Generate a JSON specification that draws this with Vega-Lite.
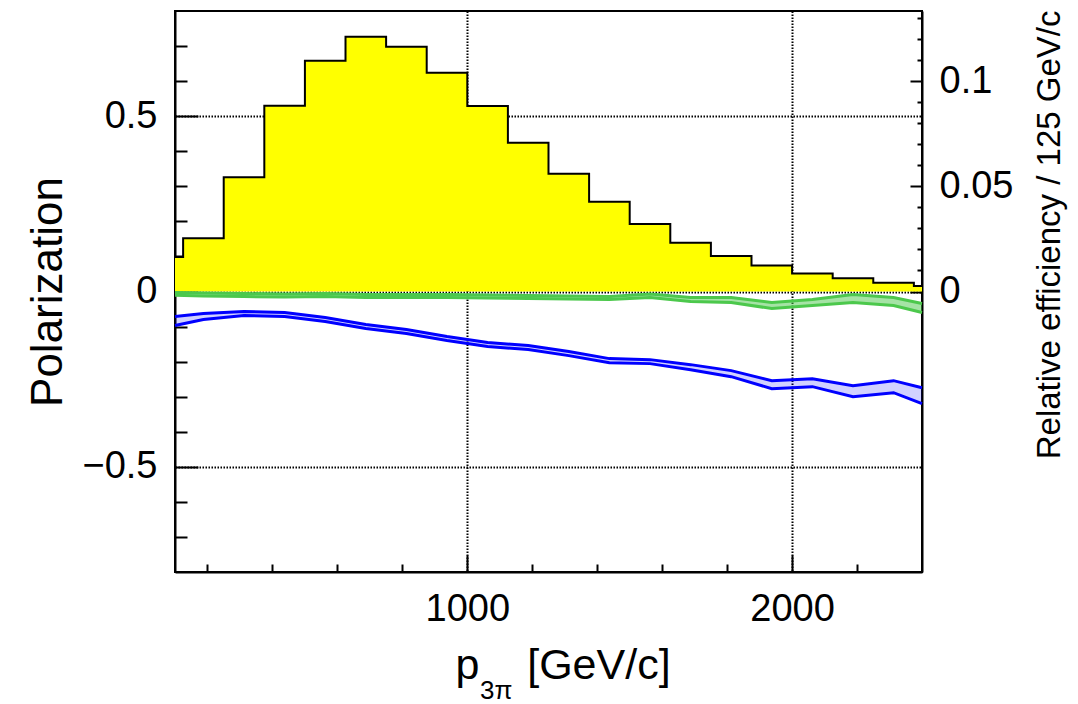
{
  "$schema": "https://vega.github.io/schema/vega-lite/v6.json",
  "width": 747,
  "height": 561,
  "autosize": {"type": "none"},
  "padding": {"left": 175, "top": 11, "right": 156, "bottom": 132},
  "background": "white",
  "config": {
    "font": "Liberation Sans",
    "view": {"stroke": "black", "strokeWidth": 2},
    "axis": {
      "domainColor": "black", "domainWidth": 2,
      "tickColor": "black", "tickWidth": 2,
      "labelColor": "black", "titleColor": "black",
      "labelFont": "Liberation Sans", "titleFont": "Liberation Sans",
      "titleFontWeight": "normal",
      "gridColor": "black", "gridDash": [1.5, 1.5], "gridWidth": 2,
      "labelFlush": false, "labelOverlap": false, "labelBound": false
    }
  },
  "title": {
    "text": "3π", "orient": "bottom", "anchor": "start", "frame": "group",
    "fontSize": 26, "font": "Liberation Sans", "fontWeight": "normal",
    "color": "black", "baseline": "alphabetic", "dx": 305, "offset": 12
  },
  "datasets": {
    "eff": [
      {"p": 100, "eff": 0.0164},
      {"p": 125, "eff": 0.0253},
      {"p": 250, "eff": 0.0543},
      {"p": 375, "eff": 0.0883},
      {"p": 500, "eff": 0.1097},
      {"p": 625, "eff": 0.1211},
      {"p": 750, "eff": 0.1163},
      {"p": 875, "eff": 0.1040},
      {"p": 1000, "eff": 0.0882},
      {"p": 1125, "eff": 0.0707},
      {"p": 1250, "eff": 0.0560},
      {"p": 1375, "eff": 0.0427},
      {"p": 1500, "eff": 0.0321},
      {"p": 1625, "eff": 0.0232},
      {"p": 1750, "eff": 0.0169},
      {"p": 1875, "eff": 0.0124},
      {"p": 2000, "eff": 0.0086},
      {"p": 2125, "eff": 0.0063},
      {"p": 2250, "eff": 0.0042},
      {"p": 2375, "eff": 0.0026},
      {"p": 2400, "eff": 0.0026}
    ],
    "pol": [
      {"p": 100, "b_hi": -0.0714, "b_lo": -0.0971, "g_hi": -0.003, "g_lo": -0.011},
      {"p": 187.5, "b_hi": -0.0629, "b_lo": -0.08, "g_hi": -0.004, "g_lo": -0.0129},
      {"p": 312.5, "b_hi": -0.0571, "b_lo": -0.0686, "g_hi": -0.0057, "g_lo": -0.0143},
      {"p": 437.5, "b_hi": -0.06, "b_lo": -0.0714, "g_hi": -0.0071, "g_lo": -0.0157},
      {"p": 562.5, "b_hi": -0.0743, "b_lo": -0.0857, "g_hi": -0.0057, "g_lo": -0.0143},
      {"p": 687.5, "b_hi": -0.0943, "b_lo": -0.1057, "g_hi": -0.0086, "g_lo": -0.0171},
      {"p": 812.5, "b_hi": -0.1086, "b_lo": -0.12, "g_hi": -0.0086, "g_lo": -0.0171},
      {"p": 937.5, "b_hi": -0.1286, "b_lo": -0.14, "g_hi": -0.0086, "g_lo": -0.0171},
      {"p": 1062.5, "b_hi": -0.1457, "b_lo": -0.1571, "g_hi": -0.01, "g_lo": -0.0186},
      {"p": 1187.5, "b_hi": -0.1543, "b_lo": -0.1657, "g_hi": -0.0114, "g_lo": -0.02},
      {"p": 1312.5, "b_hi": -0.1714, "b_lo": -0.1829, "g_hi": -0.0129, "g_lo": -0.0214},
      {"p": 1437.5, "b_hi": -0.1914, "b_lo": -0.2029, "g_hi": -0.0143, "g_lo": -0.0229},
      {"p": 1562.5, "b_hi": -0.1943, "b_lo": -0.2057, "g_hi": -0.0071, "g_lo": -0.0171},
      {"p": 1687.5, "b_hi": -0.2086, "b_lo": -0.2229, "g_hi": -0.0171, "g_lo": -0.0286},
      {"p": 1812.5, "b_hi": -0.2257, "b_lo": -0.2429, "g_hi": -0.0171, "g_lo": -0.0314},
      {"p": 1937.5, "b_hi": -0.2543, "b_lo": -0.2771, "g_hi": -0.0314, "g_lo": -0.0486},
      {"p": 2062.5, "b_hi": -0.2486, "b_lo": -0.2714, "g_hi": -0.0229, "g_lo": -0.04},
      {"p": 2187.5, "b_hi": -0.2686, "b_lo": -0.30, "g_hi": -0.0086, "g_lo": -0.0314},
      {"p": 2312.5, "b_hi": -0.2543, "b_lo": -0.2886, "g_hi": -0.0171, "g_lo": -0.04},
      {"p": 2400, "b_hi": -0.2743, "b_lo": -0.32, "g_hi": -0.0343, "g_lo": -0.06}
    ]
  },
  "layer": [
    {
      "data": {"name": "eff"},
      "layer": [
        {
          "mark": {"type": "area", "interpolate": "step-after", "color": "#ffff00", "opacity": 1},
          "encoding": {
            "x": {
              "field": "p", "type": "quantitative",
              "scale": {"domain": [100, 2400], "nice": false, "zero": false},
              "axis": {
                "orient": "bottom",
                "values": [200, 400, 600, 800, 1000, 1200, 1400, 1600, 1800, 2000, 2200],
                "title": "p\u00a0\u00a0\u00a0\u00a0[GeV/c]",
                "titleFontSize": 43, "titleX": 280, "titleY": 106,
                "titleAlign": "left", "titleBaseline": "alphabetic", "titleAnchor": "start",
                "labelFontSize": 38, "labelPadding": 35, "labelBaseline": "top",
                "tickSize": {"condition": {"test": "datum.value % 1000 === 0", "value": -17}, "value": -8},
                "labelExpr": "datum.value % 1000 === 0 ? (datum.value + '') : ''",
                "grid": true,
                "gridOpacity": {"condition": {"test": "datum.value % 1000 === 0", "value": 1}, "value": 0}
              }
            },
            "y": {
              "field": "eff", "type": "quantitative",
              "scale": {"domain": [-0.133333, 0.133333], "nice": false, "zero": false},
              "axis": {
                "orient": "right",
                "values": [0, 0.01, 0.02, 0.03, 0.04, 0.05, 0.06, 0.07, 0.08, 0.09, 0.1, 0.11, 0.12, 0.13],
                "title": "Relative efficiency / 125 GeV/c",
                "titleFontSize": 33, "titleAngle": -90, "titleAlign": "right",
                "titleBaseline": "alphabetic", "titleX": 137, "titleY": -1,
                "labelFontSize": 38, "labelPadding": 29, "labelAlign": "left", "labelBaseline": "middle",
                "tickSize": {"condition": {"test": "datum.value === 0 || datum.value === 0.05 || datum.value === 0.1", "value": -12}, "value": -5},
                "labelExpr": "datum.value === 0 ? '0' : datum.value === 0.05 ? '0.05' : datum.value === 0.1 ? '0.1' : ''",
                "grid": false
              }
            },
            "y2": {"datum": 0}
          }
        },
        {
          "mark": {"type": "line", "interpolate": "step-after", "color": "black", "strokeWidth": 2},
          "encoding": {
            "x": {"field": "p", "type": "quantitative"},
            "y": {"field": "eff", "type": "quantitative"}
          }
        }
      ]
    },
    {
      "data": {"name": "pol"},
      "layer": [
        {
          "mark": {"type": "area", "color": "#0000ff", "opacity": 0.18},
          "encoding": {
            "x": {"field": "p", "type": "quantitative"},
            "y": {
              "field": "b_hi", "type": "quantitative",
              "scale": {"domain": [-0.8, 0.8], "nice": false, "zero": false},
              "axis": {
                "orient": "left",
                "values": [-0.7, -0.6, -0.5, -0.4, -0.3, -0.2, -0.1, 0, 0.1, 0.2, 0.3, 0.4, 0.5, 0.6, 0.7],
                "title": "Polarization",
                "titleFontSize": 44, "titleAngle": -90, "titleAlign": "center",
                "titleBaseline": "alphabetic", "titleX": -114, "titleY": 280.5,
                "labelFontSize": 38, "labelPadding": 41, "labelAlign": "right", "labelBaseline": "middle",
                "tickSize": {"condition": {"test": "datum.value === 0 || datum.value === 0.5 || datum.value === -0.5", "value": -23}, "value": -12},
                "labelExpr": "datum.value === 0 ? '0' : datum.value === 0.5 ? '0.5' : datum.value === -0.5 ? '−0.5' : ''",
                "grid": true,
                "gridOpacity": {"condition": {"test": "datum.value === 0 || datum.value === 0.5 || datum.value === -0.5", "value": 1}, "value": 0}
              }
            },
            "y2": {"field": "b_lo"}
          }
        },
        {
          "mark": {"type": "line", "color": "#0000ff", "strokeWidth": 3},
          "encoding": {"x": {"field": "p", "type": "quantitative"}, "y": {"field": "b_hi", "type": "quantitative"}}
        },
        {
          "mark": {"type": "line", "color": "#0000ff", "strokeWidth": 3},
          "encoding": {"x": {"field": "p", "type": "quantitative"}, "y": {"field": "b_lo", "type": "quantitative"}}
        },
        {
          "mark": {"type": "area", "color": "#4cc84c", "opacity": 0.5},
          "encoding": {
            "x": {"field": "p", "type": "quantitative"},
            "y": {"field": "g_hi", "type": "quantitative"},
            "y2": {"field": "g_lo"}
          }
        },
        {
          "mark": {"type": "line", "color": "#4cc84c", "strokeWidth": 3},
          "encoding": {"x": {"field": "p", "type": "quantitative"}, "y": {"field": "g_hi", "type": "quantitative"}}
        },
        {
          "mark": {"type": "line", "color": "#4cc84c", "strokeWidth": 3},
          "encoding": {"x": {"field": "p", "type": "quantitative"}, "y": {"field": "g_lo", "type": "quantitative"}}
        }
      ]
    }
  ],
  "resolve": {"scale": {"y": "independent"}}
}
